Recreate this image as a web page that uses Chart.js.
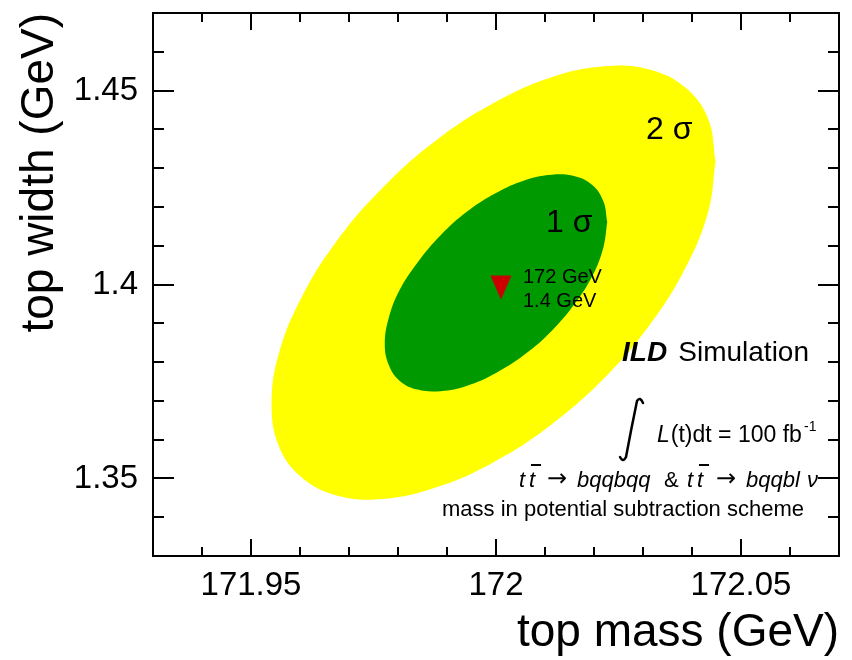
<!DOCTYPE html>
<html>
<head>
<meta charset="utf-8">
<script src="https://cdn.jsdelivr.net/npm/chart.js@4.4.0/dist/chart.umd.min.js"></script>
<style>
  html, body { margin: 0; padding: 0; background: #fff; }
</style>
</head>
<body>
<canvas id="fitChart" width="852" height="660"></canvas>
<script>
// fitted point (GeV)
const fitMass = [172.001];
const fitWidth = [1.3992];

// 1 sigma contour, points read round the green area
const oneSigmaMass = [172.0227, 172.0219, 172.0197, 172.0161, 172.0114, 172.0059, 172.0000, 171.9941,
  171.9887, 171.9840, 171.9803, 171.9781, 171.9773, 171.9781, 171.9803, 171.9840,
  171.9887, 171.9941, 172.0000, 172.0059, 172.0114, 172.0161, 172.0197, 172.0219];
const oneSigmaWidth = [1.4161, 1.4215, 1.4256, 1.4279, 1.4283, 1.4269, 1.4236, 1.4188,
  1.4127, 1.4057, 1.3985, 1.3913, 1.3847, 1.3793, 1.3752, 1.3729,
  1.3725, 1.3739, 1.3772, 1.3820, 1.3881, 1.3951, 1.4023, 1.4095];

// 2 sigma contour, points read round the yellow area
const twoSigmaMass = [172.0448, 172.0433, 172.0387, 172.0315, 172.0222, 172.0112, 171.9995, 171.9878,
  171.9769, 171.9675, 171.9603, 171.9557, 171.9542, 171.9557, 171.9603, 171.9675,
  171.9769, 171.9878, 171.9995, 172.0112, 172.0222, 172.0315, 172.0387, 172.0433];
const twoSigmaWidth = [1.4318, 1.4427, 1.4507, 1.4554, 1.4563, 1.4534, 1.4468, 1.4372,
  1.4250, 1.4112, 1.3966, 1.3823, 1.3692, 1.3583, 1.3503, 1.3456,
  1.3447, 1.3477, 1.3542, 1.3638, 1.3760, 1.3898, 1.4044, 1.4187];

const massTicks = [171.95, 172, 172.05];
const massMinorTicks = [171.94, 171.95, 171.96, 171.97, 171.98, 171.99, 172, 172.01, 172.02, 172.03, 172.04, 172.05, 172.06];
const widthTicks = [1.35, 1.4, 1.45];
const widthMinorTicks = [1.34, 1.35, 1.36, 1.37, 1.38, 1.39, 1.4, 1.41, 1.42, 1.43, 1.44, 1.45, 1.46];

const FONT = '"Liberation Sans", Arial, sans-serif';

function toPoints(xs, ys, close) {
  let pts = xs.map((x, i) => ({x: x, y: ys[i]}));
  if (close) pts.push({x: xs[0], y: ys[0]});
  return pts;
}

// red down triangle marker
const marker = document.createElement('canvas');
marker.width = 22;
marker.height = 25;
let mctx = marker.getContext('2d');
mctx.fillStyle = '#cc0000';
mctx.beginPath();
mctx.moveTo(0.5, 0.5);
mctx.lineTo(21.5, 0.5);
mctx.lineTo(11, 24.5);
mctx.closePath();
mctx.fill();

function noPadding(s) {
  s.paddingTop = 0; s.paddingBottom = 0; s.paddingLeft = 0; s.paddingRight = 0;
}

const rootFrame = {
  id: 'rootFrame',
  afterDatasetsDraw(chart) {
    const ctx = chart.ctx;
    const a = chart.chartArea;
    const xs = chart.scales.x, ys = chart.scales.y;
    ctx.save();
    ctx.strokeStyle = '#000';
    ctx.lineWidth = 2;
    ctx.strokeRect(a.left, a.top, a.right - a.left, a.bottom - a.top);

    ctx.beginPath();
    massMinorTicks.forEach(v => {
      let px = Math.round(xs.getPixelForValue(v));
      let len = massTicks.indexOf(v) >= 0 ? 17 : 9;
      ctx.moveTo(px, a.bottom); ctx.lineTo(px, a.bottom - len);
      ctx.moveTo(px, a.top); ctx.lineTo(px, a.top + len);
    });
    widthMinorTicks.forEach(v => {
      let py = Math.round(ys.getPixelForValue(v));
      let len = widthTicks.indexOf(v) >= 0 ? 21 : 11;
      ctx.moveTo(a.left, py); ctx.lineTo(a.left + len, py);
      ctx.moveTo(a.right, py); ctx.lineTo(a.right - len, py);
    });
    ctx.stroke();

    // labels on the plot
    ctx.fillStyle = '#000';
    ctx.textBaseline = 'alphabetic';
    ctx.textAlign = 'left';
    ctx.font = '32px ' + FONT;
    ctx.fillText('2 \u03c3', 646, 139);
    ctx.fillText('1 \u03c3', 546, 232);

    ctx.font = '20px ' + FONT;
    ctx.fillText('172 GeV', 523, 283);
    ctx.fillText('1.4 GeV', 523, 307);

    ctx.font = 'italic bold 28px ' + FONT;
    ctx.fillText('ILD', 622, 361);
    ctx.font = '28px ' + FONT;
    ctx.textAlign = 'right';
    ctx.fillText('Simulation', 809, 361);

    // integral sign
    ctx.lineWidth = 2.5;
    ctx.lineCap = 'round';
    ctx.beginPath();
    ctx.moveTo(643, 403);
    ctx.quadraticCurveTo(640, 396, 637, 401);
    ctx.quadraticCurveTo(631, 430, 626, 457);
    ctx.quadraticCurveTo(623, 463, 620, 457);
    ctx.stroke();

    ctx.textAlign = 'left';
    ctx.font = 'italic 23px ' + FONT;
    ctx.fillText('L', 657, 442);
    let lw = ctx.measureText('L').width;
    ctx.font = '23px ' + FONT;
    ctx.fillText('(t)dt = 100 fb', 657 + lw + 1, 442);
    ctx.font = '14px ' + FONT;
    ctx.fillText('-1', 804, 431);

    // decay channels
    const base = 487;
    const seq = [
      ['t', 519, 'i', false], ['t', 529, 'i', true], ['\u2192', 547, 'a', false],
      ['bqqbqq', 577, 'i', false], ['&', 664, 'r', false],
      ['t', 687, 'i', false], ['t', 697, 'i', true], ['\u2192', 716, 'a', false],
      ['bqqbl', 746, 'i', false], ['\u03bd', 807, 'i', false]
    ];
    seq.forEach(s => {
      if (s[2] === 'i') ctx.font = 'italic 22px ' + FONT;
      else if (s[2] === 'a') ctx.font = '24px "DejaVu Sans"';
      else ctx.font = '22px ' + FONT;
      ctx.fillText(s[0], s[1], s[2] === 'a' ? base - 1 : base);
      if (s[3]) ctx.fillRect(s[1] + 2, base - 23, 10, 2);
    });

    ctx.font = '22px ' + FONT;
    ctx.textAlign = 'right';
    ctx.fillText('mass in potential subtraction scheme', 804, 516);
    ctx.restore();
  }
};

new Chart(document.getElementById('fitChart'), {
  type: 'scatter',
  data: {
    datasets: [
      {
        label: 'fit',
        data: toPoints(fitMass, fitWidth, false),
        pointStyle: marker,
        pointRadius: 12,
        showLine: false
      },
      {
        label: '1 sigma',
        data: toPoints(oneSigmaMass, oneSigmaWidth, true),
        showLine: true,
        fill: 'shape',
        backgroundColor: '#009900',
        borderColor: '#009900',
        borderWidth: 0,
        pointRadius: 0,
        tension: 0.4
      },
      {
        label: '2 sigma',
        data: toPoints(twoSigmaMass, twoSigmaWidth, true),
        showLine: true,
        fill: 'shape',
        backgroundColor: '#ffff00',
        borderColor: '#ffff00',
        borderWidth: 0,
        pointRadius: 0,
        tension: 0.4
      }
    ]
  },
  options: {
    responsive: false,
    animation: false,
    layout: {padding: {top: 10, right: 7, left: 0, bottom: 0}},
    plugins: {legend: {display: false}, tooltip: {enabled: false}},
    scales: {
      x: {
        type: 'linear',
        min: 171.93,
        max: 172.07,
        afterBuildTicks: s => { s.ticks = massTicks.map(v => ({value: v})); },
        afterFit: s => { s.height = 104; noPadding(s); },
        grid: {display: false, drawTicks: false},
        border: {display: false},
        ticks: {padding: 10, color: '#000', font: {family: FONT, size: 33}, callback: v => String(v)},
        title: {display: true, text: 'top mass (GeV)', align: 'end', color: '#000',
          font: {family: FONT, size: 46, lineHeight: 1}, padding: {top: 0, bottom: 4}}
      },
      y: {
        type: 'linear',
        min: 1.33,
        max: 1.47,
        afterBuildTicks: s => { s.ticks = widthTicks.map(v => ({value: v})); },
        afterFit: s => { s.width = 153; noPadding(s); },
        grid: {display: false, drawTicks: false},
        border: {display: false},
        ticks: {padding: 15, color: '#000', font: {family: FONT, size: 33}, callback: v => String(v)},
        title: {display: true, text: 'top width (GeV)', align: 'end', color: '#000',
          font: {family: FONT, size: 46, lineHeight: 1}, padding: {top: 17, bottom: 0}}
      }
    }
  },
  plugins: [rootFrame]
});
</script>
</body>
</html>
